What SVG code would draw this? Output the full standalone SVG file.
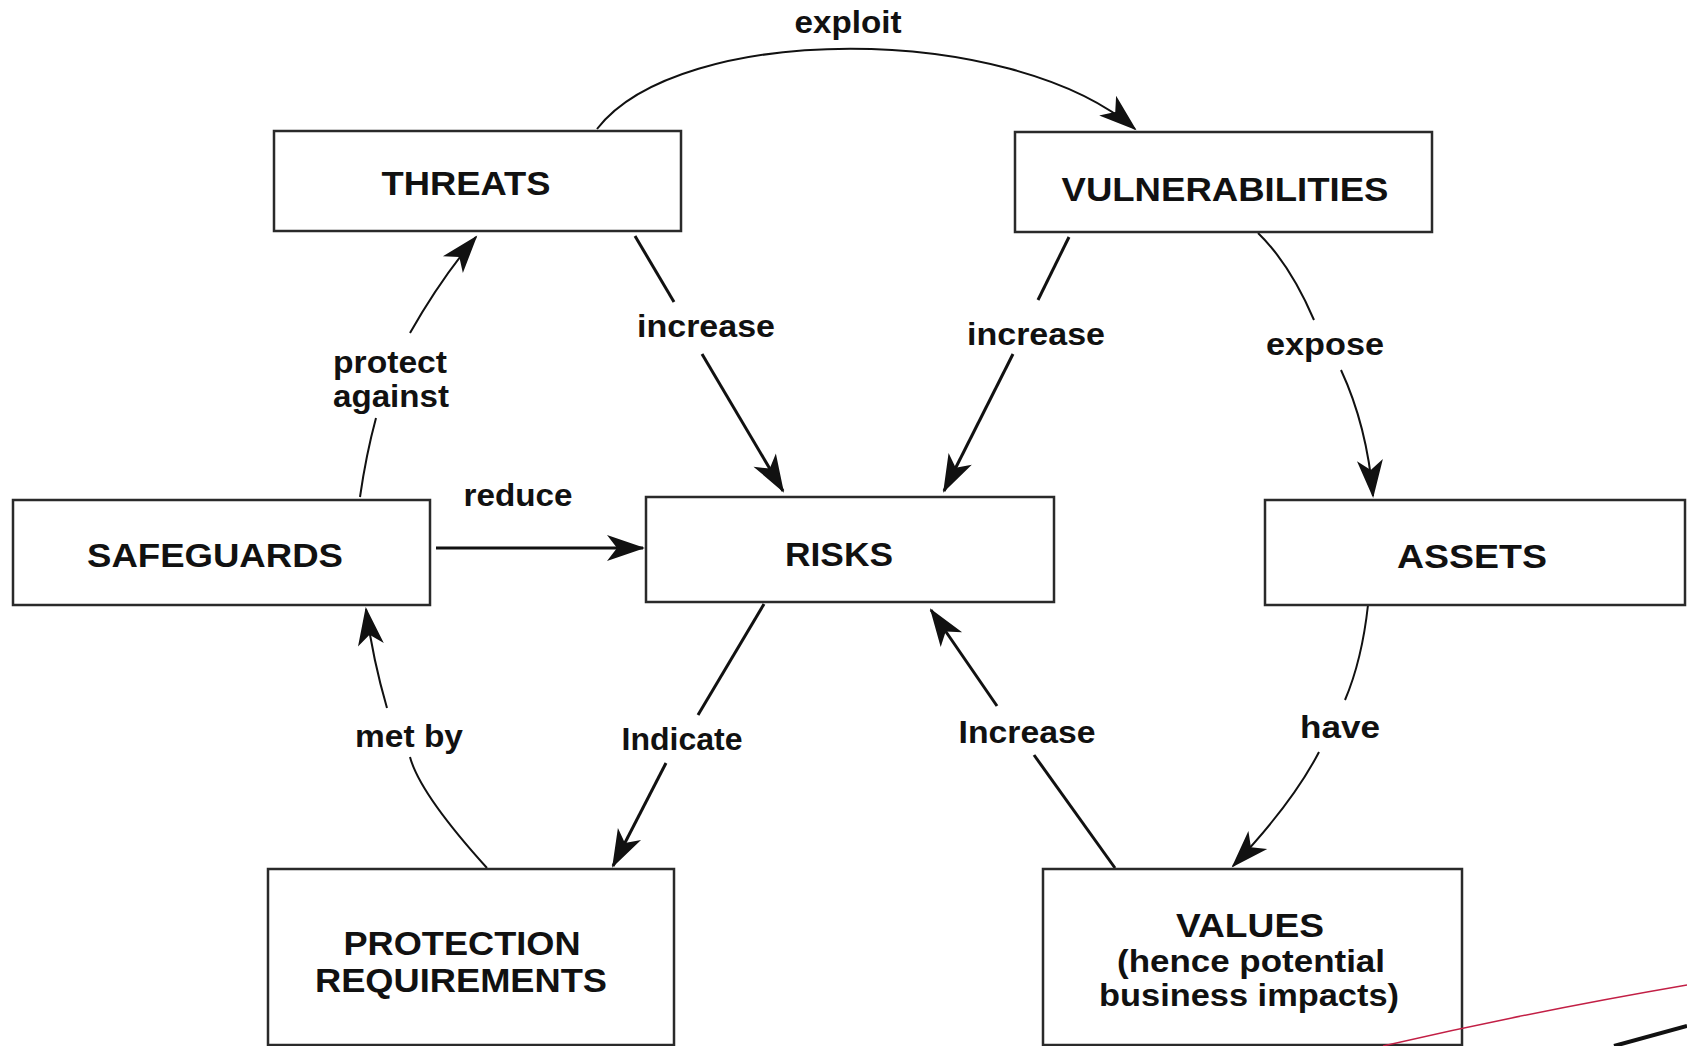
<svg xmlns="http://www.w3.org/2000/svg" width="1687" height="1046" viewBox="0 0 1687 1046">
  <style>
    .box { fill: #ffffff; stroke: #2a2a2a; stroke-width: 2.5; }
    .name { font-family: "Liberation Sans", Arial, Helvetica, sans-serif; font-weight: bold; font-size: 33px; fill: #111111; text-anchor: middle; }
    .lbl { font-family: "Liberation Sans", Arial, Helvetica, sans-serif; font-weight: bold; font-size: 32px; fill: #111111; text-anchor: middle; }
    .edge { fill: none; stroke: #111111; stroke-width: 3; }
    .thin { fill: none; stroke: #111111; stroke-width: 2; }
  </style>
  <defs>
    <marker id="head" markerUnits="userSpaceOnUse" markerWidth="44" markerHeight="32" viewBox="-40 -16 44 32" refX="0" refY="0" orient="auto">
      <path d="M2,0 L-36,-13 L-26,0 L-36,13 Z" fill="#111111"/>
    </marker>
  </defs>

  <rect width="1687" height="1046" fill="#ffffff"/>

  <!-- connectors -->
  <g id="connectors">
    <g id="e-exploit">
      <path class="thin" d="M597,129 C680,22 1010,22 1135,129" marker-end="url(#head)"/>
      <text class="lbl" x="848" y="33" textLength="107" lengthAdjust="spacingAndGlyphs">exploit</text>
    </g>
    <g id="e-threats-risks">
      <path class="edge" d="M635,236 L674,302"/>
      <path class="edge" d="M702,354 L783,491" marker-end="url(#head)"/>
      <text class="lbl" x="706" y="337" textLength="138" lengthAdjust="spacingAndGlyphs">increase</text>
    </g>
    <g id="e-vuln-risks">
      <path class="edge" d="M1069,237 L1038,300"/>
      <path class="edge" d="M1013,354 L944,491" marker-end="url(#head)"/>
      <text class="lbl" x="1036" y="345" textLength="138" lengthAdjust="spacingAndGlyphs">increase</text>
    </g>
    <g id="e-vuln-assets">
      <path class="thin" d="M1258,233 Q1290,264 1314,320"/>
      <path class="thin" d="M1341,370 Q1367,426 1373,496" marker-end="url(#head)"/>
      <text class="lbl" x="1325" y="355" textLength="118" lengthAdjust="spacingAndGlyphs">expose</text>
    </g>
    <g id="e-safeguards-threats">
      <path class="thin" d="M360,497 Q366,455 376,418"/>
      <path class="thin" d="M410,333 Q440,280 476,237" marker-end="url(#head)"/>
      <text class="lbl" x="390" y="373" textLength="114" lengthAdjust="spacingAndGlyphs">protect</text>
      <text class="lbl" x="391" y="407" textLength="116" lengthAdjust="spacingAndGlyphs">against</text>
    </g>
    <g id="e-safeguards-risks">
      <path class="edge" d="M436,548 L643,548" marker-end="url(#head)"/>
      <text class="lbl" x="518" y="506" textLength="109" lengthAdjust="spacingAndGlyphs">reduce</text>
    </g>
    <g id="e-risks-protection">
      <path class="edge" d="M764,604 L698,715"/>
      <path class="edge" d="M666,763 L613,866" marker-end="url(#head)"/>
      <text class="lbl" x="682" y="750" textLength="121" lengthAdjust="spacingAndGlyphs">Indicate</text>
    </g>
    <g id="e-protection-safeguards">
      <path class="thin" d="M487,868 Q420,794 410,757"/>
      <path class="thin" d="M387,708 Q373,660 366,609" marker-end="url(#head)"/>
      <text class="lbl" x="409" y="747" textLength="108" lengthAdjust="spacingAndGlyphs">met by</text>
    </g>
    <g id="e-values-risks">
      <path class="edge" d="M1115,868 L1034,755"/>
      <path class="edge" d="M997,706 L931,610" marker-end="url(#head)"/>
      <text class="lbl" x="1027" y="743" textLength="137" lengthAdjust="spacingAndGlyphs">Increase</text>
    </g>
    <g id="e-assets-values">
      <path class="thin" d="M1368,605 Q1362,660 1345,700"/>
      <path class="thin" d="M1319,752 Q1292,804 1233,866" marker-end="url(#head)"/>
      <text class="lbl" x="1340" y="738" textLength="80" lengthAdjust="spacingAndGlyphs">have</text>
    </g>
  </g>

  <!-- nodes -->
  <g id="threats">
    <rect class="box" x="274" y="131" width="407" height="100"/>
    <text class="name" x="466" y="195" textLength="169" lengthAdjust="spacingAndGlyphs">THREATS</text>
  </g>
  <g id="vulnerabilities">
    <rect class="box" x="1015" y="132" width="417" height="100"/>
    <text class="name" x="1225" y="201" textLength="327" lengthAdjust="spacingAndGlyphs">VULNERABILITIES</text>
  </g>
  <g id="safeguards">
    <rect class="box" x="13" y="500" width="417" height="105"/>
    <text class="name" x="215" y="567" textLength="256" lengthAdjust="spacingAndGlyphs">SAFEGUARDS</text>
  </g>
  <g id="risks">
    <rect class="box" x="646" y="497" width="408" height="105"/>
    <text class="name" x="839" y="566" textLength="108" lengthAdjust="spacingAndGlyphs">RISKS</text>
  </g>
  <g id="assets">
    <rect class="box" x="1265" y="500" width="420" height="105"/>
    <text class="name" x="1472" y="568" textLength="150" lengthAdjust="spacingAndGlyphs">ASSETS</text>
  </g>
  <g id="protection-requirements">
    <rect class="box" x="268" y="869" width="406" height="176"/>
    <text class="name" x="462" y="955" textLength="237" lengthAdjust="spacingAndGlyphs">PROTECTION</text>
    <text class="name" x="461" y="992" textLength="292" lengthAdjust="spacingAndGlyphs">REQUIREMENTS</text>
  </g>
  <g id="values">
    <rect class="box" x="1043" y="869" width="419" height="176"/>
    <text class="name" x="1250" y="937" textLength="148" lengthAdjust="spacingAndGlyphs">VALUES</text>
    <text class="lbl" x="1251" y="972" textLength="268" lengthAdjust="spacingAndGlyphs">(hence potential</text>
    <text class="lbl" x="1249" y="1006" textLength="300" lengthAdjust="spacingAndGlyphs">business impacts)</text>
  </g>

  <!-- slide corner flourish -->
  <g id="flourish">
    <path d="M1383,1046 Q1530,1012 1687,985" fill="none" stroke="#c21f45" stroke-width="1.5"/>
    <path d="M1614,1046 L1687,1026" fill="none" stroke="#111111" stroke-width="4"/>
  </g>
</svg>
